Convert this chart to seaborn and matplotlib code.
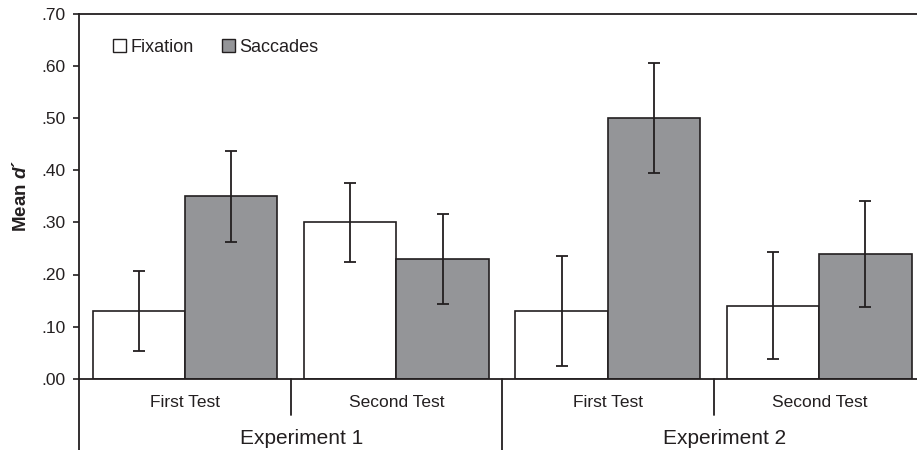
import matplotlib
matplotlib.use("Agg")
import matplotlib.pyplot as plt
import seaborn as sns
import pandas as pd
import numpy as np
from matplotlib.lines import Line2D
from matplotlib.patches import Patch

# ---- data ----
experiments = ["Experiment 1", "Experiment 2"]
tests = ["First Test", "Second Test", "First Test", "Second Test"]
conditions = ["Fixation", "Saccades"]
fixation = [0.13, 0.30, 0.13, 0.14]
saccades = [0.35, 0.23, 0.50, 0.24]
fixation_err = [0.077, 0.076, 0.105, 0.103]
saccades_err = [0.087, 0.086, 0.105, 0.102]
ytick_values = [0.0, 0.1, 0.2, 0.3, 0.4, 0.5, 0.6, 0.7]
ytick_labels = [".00", ".10", ".20", ".30", ".40", ".50", ".60", ".70"]

groups = [f"{experiments[i // 2]} | {t}" for i, t in enumerate(tests)]
df = pd.DataFrame({
    "group": groups * 2,
    "condition": [conditions[0]] * 4 + [conditions[1]] * 4,
    "value": fixation + saccades,
})
errs = {conditions[0]: fixation_err, conditions[1]: saccades_err}

sns.set_theme(style="white")
plt.rcParams["font.family"] = ["Liberation Sans", "DejaVu Sans"]
plt.rcParams["mathtext.fontset"] = "custom"
plt.rcParams["mathtext.rm"] = "Liberation Sans"
plt.rcParams["mathtext.it"] = "Liberation Sans:italic"
plt.rcParams["mathtext.bf"] = "Liberation Sans:bold"
plt.rcParams["mathtext.bfit"] = "Liberation Sans:bold:italic"

TXT = "#231f20"
EDGE = "#231f20"
GRAY = "#949598"

W, H = 917, 450
fig = plt.figure(figsize=(W / 100, H / 100), dpi=100)
left, right, top, bottom = 79.3, 925.0, 14.0, 378.7
ax = fig.add_axes([left / W, 1 - bottom / H, (right - left) / W, (bottom - top) / H])

sns.barplot(data=df, x="group", y="value", hue="condition", order=groups,
            hue_order=conditions, palette={"Fixation": "white", "Saccades": GRAY},
            width=0.874, edgecolor=EDGE, linewidth=1.2, errorbar=None,
            legend=False, ax=ax, saturation=1)

for cont, cond in zip(ax.containers, conditions):
    for bar, e in zip(cont, errs[cond]):
        x = bar.get_x() + bar.get_width() / 2
        ax.errorbar(x, bar.get_height(), yerr=e, fmt="none", ecolor=EDGE,
                    elinewidth=1.3, capsize=4, capthick=1.3, zorder=5)

ax.set_xlim(-0.5, len(groups) - 0.5)
ax.set_ylim(0, 0.7)
ax.set_yticks(ytick_values)
ax.set_yticklabels(ytick_labels)
ax.set_xticks(range(len(groups)))
ax.set_xticklabels(tests)
ax.tick_params(axis="x", length=0, pad=11.5, labelsize=12.5, labelcolor=TXT)
ax.tick_params(axis="y", length=4, width=1.2, color=EDGE, pad=6, labelsize=12.5,
               labelcolor=TXT, left=True)
ax.set_xlabel("")
ax.set_ylabel(r"Mean $\mathbfit{d}$´", fontsize=13.5, fontweight="bold", color=TXT, labelpad=8)

for s in ["left", "top", "bottom", "right"]:
    ax.spines[s].set_color(EDGE)
    ax.spines[s].set_linewidth(1.3)

# category separators below the axis
px = 1 / (bottom - top)
deep = -(H - bottom) * px
short = -36.5 * px
ax.add_line(Line2D([-0.5, -0.5], [0, deep], transform=ax.get_xaxis_transform(),
                   color=EDGE, lw=1.3, clip_on=False))
for b, yy in [(0.5, short), (1.5, deep), (2.5, short)]:
    ax.add_line(Line2D([b, b], [0, yy], transform=ax.get_xaxis_transform(),
                       color=EDGE, lw=1.3, clip_on=False))

# experiment labels
for k, exp in enumerate(experiments):
    cx = np.mean([2 * k, 2 * k + 1]) + 0.05
    ax.text(cx, -(438 - bottom) * px, exp, transform=ax.get_xaxis_transform(),
            ha="center", va="center", fontsize=15, color=TXT)

handles = [Patch(facecolor="white", edgecolor=EDGE, linewidth=1.0),
           Patch(facecolor=GRAY, edgecolor=EDGE, linewidth=1.0)]
ax.legend(handles, conditions, loc="upper left",
          bbox_to_anchor=((113 - left) / (right - left), (bottom - 39) * px),
          ncol=2, frameon=False, fontsize=13, handlelength=0.7, handleheight=0.7,
          handletextpad=0.25, columnspacing=1.6, borderpad=0, borderaxespad=0,
          labelcolor=TXT)

fig.savefig("out.png", dpi=100)
